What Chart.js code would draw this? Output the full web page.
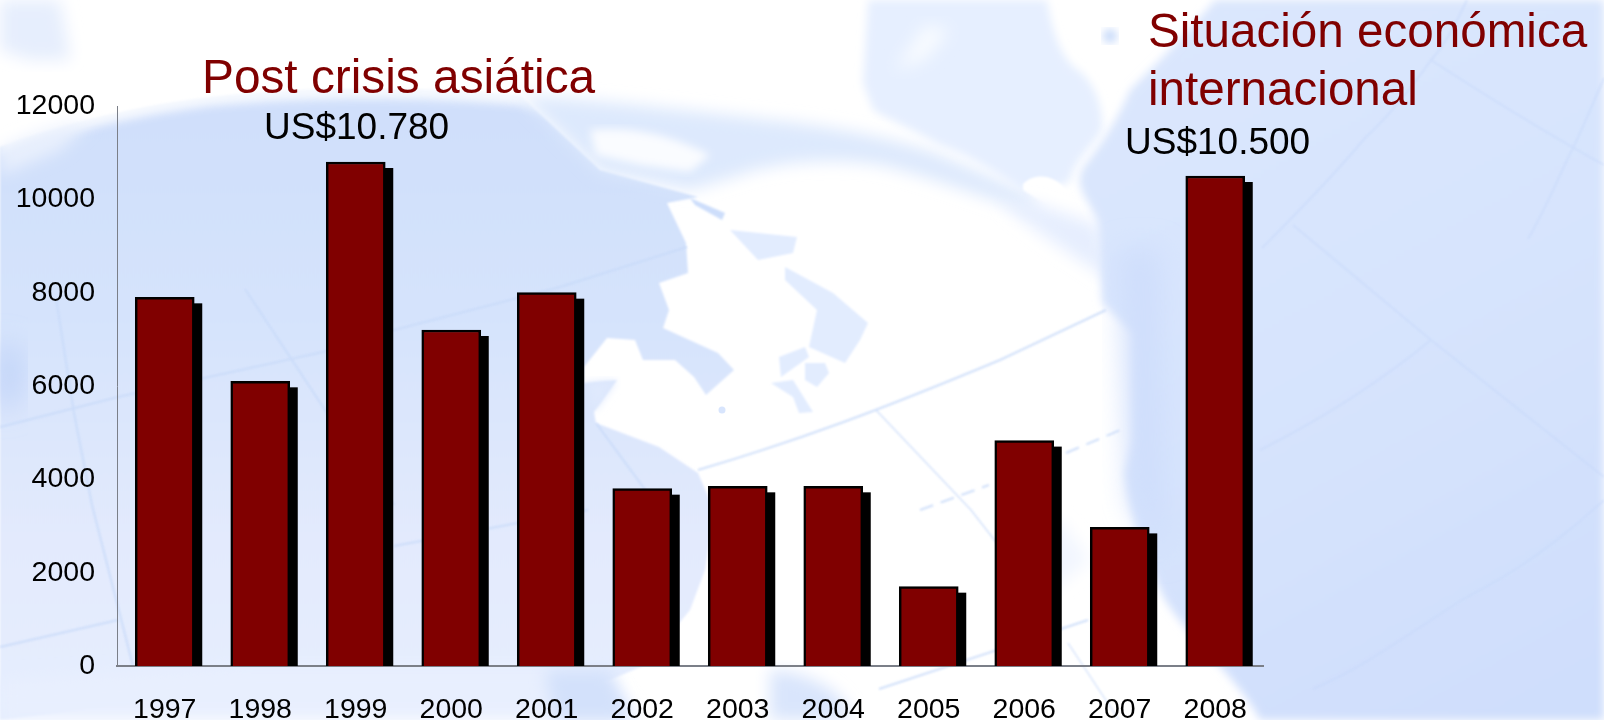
<!DOCTYPE html>
<html>
<head>
<meta charset="utf-8">
<script src="https://cdn.jsdelivr.net/npm/chart.js@4/dist/chart.umd.min.js"></script>
<style>
html,body{margin:0;padding:0;width:1604px;height:720px;overflow:hidden;background:#fff}
#bg{position:absolute;left:0;top:0}
#c{position:absolute;left:0;top:0}
</style>
</head>
<body>
<svg id="bg" width="1604" height="720" viewBox="0 0 1604 720" xmlns="http://www.w3.org/2000/svg">
<defs>
<filter id="b0" x="-5%" y="-5%" width="110%" height="110%"><feGaussianBlur stdDeviation="1.2"/></filter>
<filter id="b2" x="-10%" y="-10%" width="120%" height="120%"><feGaussianBlur stdDeviation="4"/></filter>
<filter id="b1" x="-20%" y="-20%" width="140%" height="140%"><feGaussianBlur stdDeviation="8"/></filter>
<filter id="b3" x="-40%" y="-40%" width="180%" height="180%"><feGaussianBlur stdDeviation="14"/></filter>
<linearGradient id="lg" gradientUnits="userSpaceOnUse" x1="0" y1="90" x2="0" y2="720"><stop offset="0" stop-color="#cfdffb"/><stop offset="0.35" stop-color="#d5e3fc"/><stop offset="0.72" stop-color="#e3eafd"/><stop offset="1" stop-color="#e6eefe"/></linearGradient>
<linearGradient id="rg" gradientUnits="userSpaceOnUse" x1="1100" y1="0" x2="1500" y2="720"><stop offset="0" stop-color="#dbe7fd"/><stop offset="0.5" stop-color="#d7e4fd"/><stop offset="1" stop-color="#cfdefc"/></linearGradient>
</defs>
<rect width="1604" height="720" fill="#ffffff"/>
<!-- left ocean -->
<path filter="url(#b0)" d="M0 147 C50 128 120 108 210 97 C300 86 420 86 520 95 L600 170 L698 197 L667 203 L686 243 L688 273 L659 283 L669 310 L663 328 L718 353 L734 370 L706 395 L694 377 L675 360 L643 360 L635 340 L607 338 L584 367 L584 383 L617 380 L594 412 L596 423 L659 447 L683 463 L698 473 L714 510 L705 570 L690 610 L645 665 L610 680 L560 690 L240 690 L0 720 Z" fill="url(#lg)"/>
<!-- softened upper edge of the ocean -->
<path filter="url(#b2)" d="M0 140 C50 120 120 100 210 90 C300 78 420 78 540 88 L600 130 L520 105 C400 96 300 98 210 106 C120 118 50 136 0 156 Z" fill="#ffffff" opacity="0.8"/>
<path filter="url(#b1)" d="M0 680 L240 665 L560 665 L610 680 L640 720 L0 720 Z" fill="#e8effe"/>
<path filter="url(#b1)" d="M545 670 L610 670 L630 720 L555 720 Z" fill="#d3e1fb"/>
<!-- streak across the top -->
<path filter="url(#b1)" d="M520 95 C600 100 700 112 789 122 C850 130 900 140 940 155 C975 170 1000 180 1030 195 L1040 215 C990 200 930 176 880 165 C840 158 780 160 740 175 L690 190 L600 172 Z" fill="#dde9fd"/>
<path filter="url(#b2)" d="M590 130 C640 125 680 140 710 155 L690 172 L640 165 L596 155 Z" fill="#fafcff"/>
<path filter="url(#b0)" d="M690 198 L725 213 L722 220 L695 205 Z" fill="#cddefb"/>
<!-- top pale land -->
<path filter="url(#b2)" d="M868 0 L1047 0 C1052 30 1060 55 1075 68 C1095 80 1104 110 1102 130 C1090 150 1074 160 1070 182 L1030 195 C1000 175 970 155 940 145 C910 128 885 118 873 110 L863 83 Z" fill="#e6efff"/>
<path filter="url(#b1)" d="M925 25 L950 30 L925 60 L895 70 Z" fill="#f8fbff"/>
<path filter="url(#b0)" d="M1023 184 C1035 172 1055 175 1066 190 C1078 200 1092 212 1098 222 C1075 215 1040 203 1023 190 Z" fill="#ffffff"/>
<path filter="url(#b1)" d="M1000 200 L1040 205 L1098 225 L1110 280 L1080 260 C1050 240 1020 220 1000 200 Z" fill="#e6eefe"/>
<!-- right ocean -->
<path filter="url(#b2)" d="M1215 0 L1604 0 L1604 720 L1260 720 C1240 680 1190 640 1165 600 C1150 570 1130 520 1125 473 L1133 440 L1133 333 L1102 303 L1098 223 C1090 200 1070 185 1085 165 C1100 145 1115 125 1130 90 C1160 60 1190 30 1215 0 Z" fill="url(#rg)"/>
<path filter="url(#b3)" d="M1120 250 L1160 250 L1165 560 L1130 500 Z" fill="#cfdefc"/>
<!-- islands -->
<path filter="url(#b0)" fill="#e2ecfe" d="M730 230 L797 237 L793 253 L758 260 Z"/>
<path filter="url(#b0)" fill="#e2ecfe" d="M785 267 L833 293 L868 323 L860 340 L845 363 L809 347 L817 310 L785 280 Z"/>
<path filter="url(#b0)" fill="#e2ecfe" d="M779 357 L805 347 L809 357 L781 377 Z"/>
<path filter="url(#b0)" fill="#e2ecfe" d="M805 363 L825 363 L829 373 L817 387 L805 380 Z"/>
<path filter="url(#b0)" fill="#e2ecfe" d="M771 383 L793 380 L813 412 L799 413 L793 397 Z"/>
<circle cx="722" cy="410" r="3.5" fill="#d8e5fd"/>
<path filter="url(#b2)" d="M584 383 L617 380 L594 412 L590 395 Z" fill="#dfe9fd"/>
<!-- corners -->
<path filter="url(#b1)" d="M0 0 L60 0 L68 45 L70 60 L30 60 L0 50 Z" fill="#e6eefd"/>
<path filter="url(#b3)" d="M0 340 L20 355 L18 400 L0 412 Z" fill="#b9cef7"/>
<path filter="url(#b1)" d="M0 150 C30 135 60 125 90 122 L60 150 L0 175 Z" fill="#e9f0fd"/>
<!-- lower land patches -->
<path filter="url(#b1)" d="M770 670 C800 670 850 690 850 720 L770 720 Z" fill="#d9e5fc"/>
<path filter="url(#b1)" d="M1020 530 L1060 520 L1090 560 L1040 600 Z" fill="#f2f6ff"/>
<!-- graticule, left -->
<g fill="none" stroke="#c8daf9" stroke-width="2" filter="url(#b0)" opacity="0.85">
<path d="M0 427 L118 397 L327 351 L394 330 L560 287 L687 247"/>
<path d="M245 289 L327 413 L394 505"/>
<path d="M56 298 L74 413 L92 505 L133 666"/>
<path d="M0 647 L118 620"/>
<path d="M394 546 L588 510"/>
<path d="M596 423 L660 510"/>
<path d="M698 470 C800 440 880 410 1000 360 L1106 310"/>
<path d="M876 410 L971 510 L1010 560" stroke-width="1.3"/>
<path d="M920 510 L989 485" stroke-dasharray="14 8"/>
<path d="M1066 453 L1125 428" stroke-dasharray="14 8"/>
<path d="M879 689 L1088 620"/>
<path d="M1068 643 L1119 720" stroke-width="1.3"/>
</g>
<!-- graticule, right -->
<g fill="none" stroke="#c6d8fa" stroke-width="2" filter="url(#b0)" opacity="0.55">
<path d="M1467 0 C1455 25 1445 45 1431 60 C1410 90 1390 115 1365 138 C1330 180 1290 220 1262 248"/>
<path d="M1604 78 C1590 110 1580 135 1569 156 C1555 185 1545 210 1528 239"/>
<path d="M1604 500 C1560 540 1520 570 1467 597 C1420 625 1370 665 1313 689"/>
<path d="M1431 60 C1500 105 1550 135 1604 165"/>
<path d="M1293 225 L1431 340 L1604 477"/>
<path d="M1431 340 C1370 390 1310 425 1260 450"/>
</g>
<circle cx="1110" cy="36" r="7" fill="#c6d9fa" filter="url(#b2)"/>
</svg>
<canvas id="c" width="1604" height="720"></canvas>
<script>
const categories = ["1997","1998","1999","2000","2001","2002","2003","2004","2005","2006","2007","2008"];
const seriesValues = [7900,6100,10800,7200,8000,3800,3850,3850,1700,4830,2970,10500];
const yTicks = [0,2000,4000,6000,8000,10000,12000];
const annotationTexts = ["Post crisis asiática","US$10.780","Situación económica","internacional","US$10.500"];
const annotationColors = ["#800000","#000000","#800000","#800000","#000000"];
const annotationSizes = [47.8,37,47.6,47.6,37];
const annotationX = [202,264,1148,1148,1125];
const annotationY = [93,139,47,105,154];

const shadowPlugin = {
  id:'barShadow',
  beforeDatasetsDraw(chart){
    const ctx=chart.ctx, meta=chart.getDatasetMeta(0);
    ctx.save();
    ctx.fillStyle='#000';
    meta.data.forEach(b=>{
      const w=b.width;
      ctx.fillRect(b.x-w/2+8,b.y+6,w,b.base-b.y-6);
    });
    ctx.restore();
  }
};
const textPlugin = {
  id:'texts',
  afterDraw(chart){
    const ctx=chart.ctx;
    ctx.save();
    ctx.textAlign='left';ctx.textBaseline='alphabetic';
    annotationTexts.forEach((t,i)=>{
      ctx.font=annotationSizes[i]+'px "Liberation Sans"';
      ctx.fillStyle=annotationColors[i];
      ctx.fillText(t,annotationX[i],annotationY[i]);
    });
    ctx.restore();
  }
};
new Chart(document.getElementById('c'),{
  type:'bar',
  data:{labels:categories,datasets:[{data:seriesValues,backgroundColor:'#800000',borderColor:'#000',borderWidth:2.5,barThickness:59}]},
  plugins:[shadowPlugin,textPlugin],
  options:{
    responsive:false,animation:false,
    layout:{padding:{top:106,right:341,left:0,bottom:0}},
    plugins:{legend:{display:false},tooltip:{enabled:false},title:{display:false}},
    scales:{
      x:{grid:{display:false,drawTicks:false},border:{color:'#7b7f88',width:2},
         ticks:{color:'#000',font:{family:'"Liberation Sans"',size:28.5},padding:27,maxRotation:0,autoSkip:false},
         afterFit(s){s.height=54;}},
      y:{min:0,max:12000,grid:{display:false,drawTicks:false},border:{color:'#7b7f88',width:1},
         afterBuildTicks(s){s.ticks=yTicks.map(v=>({value:v}));},
         ticks:{color:'#000',font:{family:'"Liberation Sans"',size:28.5},padding:22,callback:v=>String(v)},
         afterFit(s){s.width=117;}}
    }
  }
});
</script>
</body>
</html>
